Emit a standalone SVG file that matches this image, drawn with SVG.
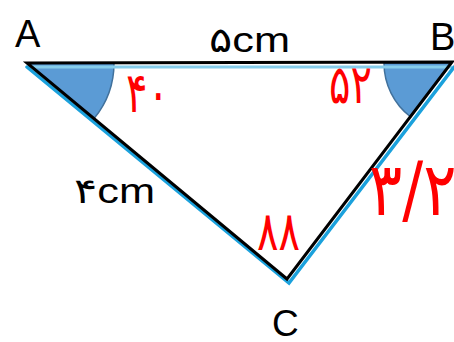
<svg xmlns="http://www.w3.org/2000/svg" width="454" height="342" viewBox="0 0 454 342">
<style>
.lbl{font-family:"Liberation Sans","DejaVu Sans",sans-serif;fill:#000}
.red{font-family:"DejaVu Sans","Liberation Sans",sans-serif;fill:#ff0000}
.wedge{fill:#5b9bd5;stroke:#41719c;stroke-width:1.5}
.edge{fill:none;stroke-linecap:round;stroke-linejoin:miter}
</style>
<rect width="454" height="342" fill="#fff"/>
<g id="angleA"><path class="wedge" d="M27,63 L114,63 A87,87 0 0 1 94,118.6 Z"/></g>
<g id="angleB"><path class="wedge" d="M452,63 L384,63 A68,68 0 0 0 410.7,117 Z"/></g>
<g id="connectors">
<line x1="27" y1="67" x2="452" y2="67" stroke="#86cdeb" stroke-width="3"/>
<polyline class="edge" points="27,67 289,283 454,67" stroke="#1ba1dc" stroke-width="3.5"/>
<polygon class="edge" points="27,63 452,62 287,279" stroke="#000" stroke-width="3"/>
</g>
<g id="A"><text class="lbl" x="15" y="47" font-size="38">A</text></g>
<g id="B"><text class="lbl" x="430" y="50" font-size="38">B</text></g>
<g id="C"><text class="lbl" x="272" y="336" font-size="37">C</text></g>
<g id="AB-label"><text class="lbl" x="209" y="52" font-size="35" textLength="81" lengthAdjust="spacingAndGlyphs">۵cm</text></g>
<g id="AC-label"><text class="lbl" x="74" y="203" font-size="35" textLength="81" lengthAdjust="spacingAndGlyphs">۴cm</text></g>
<g id="BC-label"><text class="red" transform="translate(369,215) scale(1,1.2)" font-size="62" letter-spacing="7">۳/۲</text></g>
<g id="a40"><text class="red" transform="translate(126,112) scale(1,1.4)" font-size="40" letter-spacing="15">۴۰</text></g>
<g id="a52"><text class="red" transform="translate(329,103) scale(1,1.35)" font-size="40" letter-spacing="5">۵۲</text></g>
<g id="a88"><text class="red" transform="translate(257,250) scale(1,1.35)" font-size="40" letter-spacing="2">۸۸</text></g>
</svg>
